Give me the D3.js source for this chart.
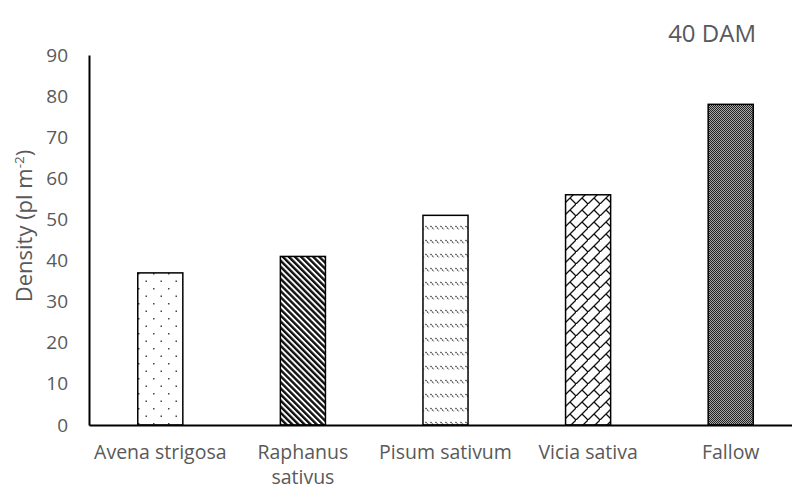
<!DOCTYPE html>
<html>
<head>
<meta charset="utf-8">
<script src="https://cdn.jsdelivr.net/npm/d3@7"></script>
<style>
  html, body { margin: 0; padding: 0; background: #fff; }
  svg { display: block; }
  text { font-family: "Open Sans", sans-serif; fill: #595959; }
</style>
</head>
<body>
<svg id="chart" width="792" height="489"></svg>
<script>
const categories = ["Avena strigosa", "Raphanus sativus", "Pisum sativum", "Vicia sativa", "Fallow"];
const categoryLines = [["Avena strigosa"], ["Raphanus", "sativus"], ["Pisum sativum"], ["Vicia sativa"], ["Fallow"]];
const values = [37, 41, 51, 56, 78];
const patterns = ["dots", "wideDiag", "dashDiag", "brick", "checker"];
const yTicks = [0, 10, 20, 30, 40, 50, 60, 70, 80, 90];
const yTitle = "Density (pl m";
const chartLabel = "40 DAM";

const svg = d3.select("#chart");
const margin = { left: 89, right: -10, top: 55, bottom: 64 };
const W = 792, H = 489;

const x = d3.scaleBand().domain(categories).range([margin.left, W - margin.right]).paddingInner(0.684).paddingOuter(0.342);
const y = d3.scaleLinear().domain([0, 90]).range([H - margin.bottom, margin.top]);

// patterns
const defs = svg.append("defs");
let p = defs.append("pattern").attr("id", "dots").attr("patternUnits", "userSpaceOnUse").attr("width", 15).attr("height", 15);
p.append("rect").attr("width", 15).attr("height", 15).attr("fill", "#fff");
p.append("rect").attr("x", 3).attr("y", 3).attr("width", 1.5).attr("height", 1.5).attr("fill", "#444");
p.append("rect").attr("x", 10.5).attr("y", 10.5).attr("width", 1.5).attr("height", 1.5).attr("fill", "#444");

p = defs.append("pattern").attr("id", "wideDiag").attr("patternUnits", "userSpaceOnUse").attr("width", 4.3).attr("height", 10).attr("patternTransform", "rotate(-45)");
p.append("rect").attr("width", 4.3).attr("height", 10).attr("fill", "#fff");
p.append("rect").attr("width", 2.4).attr("height", 10).attr("fill", "#111");

p = defs.append("pattern").attr("id", "dashDiag").attr("patternUnits", "userSpaceOnUse").attr("width", 5).attr("height", 14);
p.append("rect").attr("width", 5).attr("height", 14).attr("fill", "#fff");
p.append("line").attr("x1", 0.5).attr("y1", 2).attr("x2", 4).attr("y2", 5.5).attr("stroke", "#333").attr("stroke-width", 1.2).attr("stroke-dasharray", "1.5,0.8");

p = defs.append("pattern").attr("id", "brick").attr("patternUnits", "userSpaceOnUse").attr("width", 12).attr("height", 12);
p.append("rect").attr("width", 12).attr("height", 12).attr("fill", "#fff");
p.append("path").attr("d", "M-1,13 L13,-1 M6,6 L12,12").attr("stroke", "#111").attr("stroke-width", 1.3).attr("fill", "none");

p = defs.append("pattern").attr("id", "checker").attr("patternUnits", "userSpaceOnUse").attr("width", 2).attr("height", 2);
p.append("rect").attr("width", 2).attr("height", 2).attr("fill", "#a8a8a8");
p.append("rect").attr("width", 1).attr("height", 1).attr("fill", "#222");
p.append("rect").attr("x", 1).attr("y", 1).attr("width", 1).attr("height", 1).attr("fill", "#222");

// bars
svg.append("g").selectAll("rect").data(categories).join("rect")
  .attr("x", d => x(d))
  .attr("y", (d, i) => y(values[i]))
  .attr("width", x.bandwidth())
  .attr("height", (d, i) => y(0) - y(values[i]))
  .attr("fill", (d, i) => `url(#${patterns[i]})`)
  .attr("stroke", "#000").attr("stroke-width", 1.5);

// y axis
const yAxis = d3.axisLeft(y).tickValues(yTicks).tickSize(0).tickPadding(21);
const gy = svg.append("g").attr("transform", `translate(${margin.left},0)`).call(yAxis);
gy.select(".domain").attr("stroke", "#000").attr("stroke-width", 2);
gy.selectAll("text").style("font-size", "19px").attr("fill", "#595959").style("font-family", "'Open Sans', sans-serif");

// x axis
const xAxis = d3.axisBottom(x).tickSize(0).tickFormat("");
const gx = svg.append("g").attr("transform", `translate(0,${y(0)})`).call(xAxis);
gx.select(".domain").attr("stroke", "#000").attr("stroke-width", 2);

// x labels
const lbl = svg.append("g").selectAll("text").data(categories).join("text")
  .attr("x", d => x(d) + x.bandwidth() / 2)
  .attr("y", y(0) + 34)
  .attr("text-anchor", "middle")
  .style("font-size", "19.5px");
lbl.each(function(d, i) {
  const t = d3.select(this);
  categoryLines[i].forEach((line, j) => {
    t.append("tspan").attr("x", x(d) + x.bandwidth() / 2).attr("dy", j === 0 ? 0 : 25).text(line);
  });
});

// y title
const yt = svg.append("text")
  .attr("transform", `translate(32,226) rotate(-90)`)
  .attr("text-anchor", "middle")
  .style("font-size", "22px");
yt.append("tspan").text(yTitle);
yt.append("tspan").attr("dy", -8).style("font-size", "13.5px").text("-2");
yt.append("tspan").attr("dy", 8).text(")");

// chart label
svg.append("text").attr("x", 756).attr("y", 42).attr("text-anchor", "end").style("font-size", "24px").text(chartLabel);
</script>
</body>
</html>
